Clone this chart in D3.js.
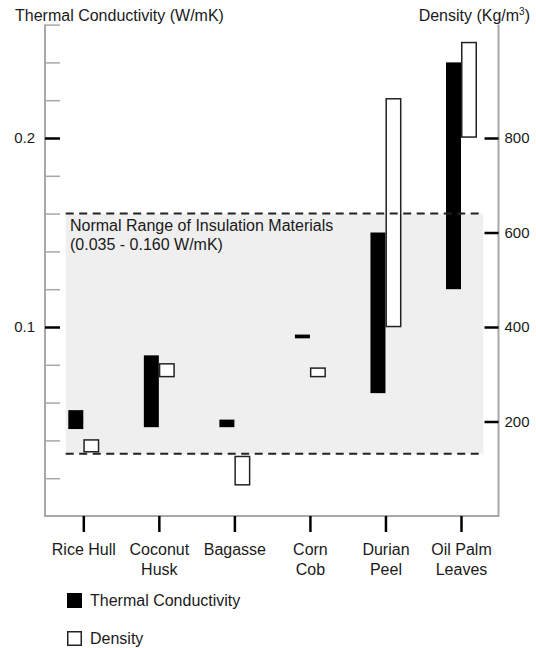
<!DOCTYPE html>
<html>
<head>
<meta charset="utf-8">
<script src="https://cdn.jsdelivr.net/npm/d3@7"></script>
<style>
  body { margin: 0; background: #fff; }
  svg { display: block; font-family: "Liberation Sans", Arial, sans-serif; }
  text { fill: #1a1a1a; }
</style>
</head>
<body>
<svg id="chart" width="536" height="648"></svg>
<script>
// values
const categories = ['Rice Hull', 'Coconut Husk', 'Bagasse', 'Corn Cob', 'Durian Peel', 'Oil Palm Leaves'];
const categoryLines = [['Rice Hull'], ['Coconut', 'Husk'], ['Bagasse'], ['Corn', 'Cob'], ['Durian', 'Peel'], ['Oil Palm', 'Leaves']];
const conductivityLow = [0.046, 0.047, 0.047, 0.094, 0.065, 0.120];
const conductivityHigh = [0.056, 0.085, 0.051, 0.096, 0.150, 0.240];
const densityLow = [136, 295, 66, 295, 401, 802];
const densityHigh = [161, 322, 126, 313, 883, 1002];
const conductivityMajorTicks = [0.1, 0.2];
const conductivityMinorTicks = [0.02, 0.04, 0.06, 0.08, 0.12, 0.14, 0.16, 0.18, 0.22, 0.24, 0.26];
const densityTicks = [200, 400, 600, 800];
const normalRange = [0.033, 0.160];

const svg = d3.select('#chart');

const plot = { left: 45, right: 498.5, top: 24.6, bottom: 516 };
const barWidth = 15;

const y = d3.scaleLinear().domain([0, 0.26]).range([plot.bottom, plot.top]);
const yRight = d3.scaleLinear().domain([0, 1040]).range([plot.bottom, plot.top]);
const x = d3.scalePoint().domain(categories).range([83.3, 461]);

const rows = categories.map((c, i) => ({
  cat: c,
  kLo: conductivityLow[i], kHi: conductivityHigh[i],
  dLo: densityLow[i], dHi: densityHigh[i]
}));

// shaded normal range
svg.append('rect')
  .attr('x', 65.7)
  .attr('width', 483.3 - 65.7)
  .attr('y', y(normalRange[1]))
  .attr('height', y(normalRange[0]) - y(normalRange[1]))
  .attr('fill', '#efefef');

// conductivity bars (filled, left of tick)
svg.append('g')
  .selectAll('rect')
  .data(rows)
  .enter().append('rect')
  .attr('x', d => x(d.cat) - barWidth)
  .attr('width', barWidth)
  .attr('y', d => y(d.kHi))
  .attr('height', d => y(d.kLo) - y(d.kHi))
  .attr('fill', '#000');

// density bars (open, right of tick)
svg.append('g')
  .selectAll('rect')
  .data(rows)
  .enter().append('rect')
  .attr('x', d => x(d.cat) + 0.75)
  .attr('width', barWidth - 0.5)
  .attr('y', d => yRight(d.dHi))
  .attr('height', d => yRight(d.dLo) - yRight(d.dHi))
  .attr('fill', '#fff')
  .attr('stroke', '#222')
  .attr('stroke-width', 1.5);

// dashed limits
svg.append('g')
  .selectAll('line')
  .data(normalRange)
  .enter().append('line')
  .attr('x1', 65.7)
  .attr('x2', 483.3)
  .attr('y1', d => y(d))
  .attr('y2', d => y(d))
  .attr('stroke', '#222')
  .attr('stroke-width', 2)
  .attr('stroke-dasharray', '8,5.5');

svg.append('text')
  .attr('x', 70)
  .attr('y', y(normalRange[1]) + 17)
  .attr('font-size', 16)
  .selectAll('tspan')
  .data(['Normal Range of Insulation Materials', '(0.035 - 0.160 W/mK)'])
  .enter().append('tspan')
  .attr('x', 70)
  .attr('dy', (d, i) => i ? 19.5 : 0)
  .text(d => d);

// frame
svg.append('path')
  .attr('d', `M${plot.left},${plot.top}V${plot.bottom}H${plot.right}V${plot.top}`)
  .attr('fill', 'none')
  .attr('stroke', '#a8a8a8')
  .attr('stroke-width', 2);

// left axis, minor ticks
svg.append('g')
  .attr('transform', `translate(${plot.left},0)`)
  .call(d3.axisLeft(y).tickValues(conductivityMinorTicks).tickSize(-15).tickFormat(''))
  .call(g => g.select('.domain').remove())
  .call(g => g.selectAll('.tick line').attr('stroke', '#a8a8a8').attr('stroke-width', 1.5));

// left axis, major ticks
svg.append('g')
  .attr('transform', `translate(${plot.left},0)`)
  .call(d3.axisLeft(y).tickValues(conductivityMajorTicks).tickSize(-15).tickPadding(10).tickFormat(d3.format('.1f')))
  .call(g => g.select('.domain').remove())
  .call(g => g.selectAll('.tick line').attr('stroke', '#000').attr('stroke-width', 2.5))
  .call(g => g.selectAll('.tick text').attr('font-size', 15).attr('font-family', null).attr('fill', '#1a1a1a'));

// right axis
svg.append('g')
  .attr('transform', `translate(${plot.right},0)`)
  .call(d3.axisRight(yRight).tickValues(densityTicks).tickSize(-14).tickPadding(6))
  .call(g => g.select('.domain').remove())
  .call(g => g.selectAll('.tick line').attr('stroke', '#000').attr('stroke-width', 2.5))
  .call(g => g.selectAll('.tick text').attr('font-size', 15).attr('font-family', null).attr('fill', '#1a1a1a'));

// bottom ticks and labels
const xAxis = svg.append('g')
  .attr('transform', `translate(0,${plot.bottom})`)
  .call(d3.axisBottom(x).tickSize(16).tickFormat(''))
  .call(g => g.select('.domain').remove())
  .call(g => g.selectAll('.tick line').attr('stroke', '#000').attr('stroke-width', 2.5));

xAxis.selectAll('.tick').each(function(d, i) {
  const t = d3.select(this).append('text')
    .attr('y', 39)
    .attr('font-size', 16)
    .attr('font-family', null)
    .attr('text-anchor', 'middle')
    .attr('fill', '#1a1a1a');
  t.selectAll('tspan')
    .data(categoryLines[i])
    .enter().append('tspan')
    .attr('x', 0)
    .attr('dy', (s, j) => j ? 19.5 : 0)
    .text(s => s);
});

// axis titles
svg.append('text')
  .attr('x', 15)
  .attr('y', 21)
  .attr('font-size', 16)
  .text('Thermal Conductivity (W/mK)');

const rt = svg.append('text')
  .attr('x', 530)
  .attr('y', 21)
  .attr('font-size', 16)
  .attr('text-anchor', 'end');
rt.append('tspan').text('Density (Kg/m');
rt.append('tspan').attr('font-size', 10).attr('dy', -6).text('3');
rt.append('tspan').attr('dy', 6).text(')');

// legend
const legend = [
  { label: 'Thermal Conductivity', fill: '#000', stroke: 'none' },
  { label: 'Density', fill: '#fff', stroke: '#222' }
];
const lg = svg.append('g')
  .selectAll('g')
  .data(legend)
  .enter().append('g')
  .attr('transform', (d, i) => `translate(67,${593 + i * 38})`);
lg.append('rect')
  .attr('x', d => d.stroke === 'none' ? 0 : 0.75)
  .attr('y', d => d.stroke === 'none' ? 0 : 0.75)
  .attr('width', d => d.stroke === 'none' ? 15 : 13.5)
  .attr('height', d => d.stroke === 'none' ? 15 : 13.5)
  .attr('fill', d => d.fill)
  .attr('stroke', d => d.stroke)
  .attr('stroke-width', 1.5);
lg.append('text')
  .attr('x', 23)
  .attr('y', 13)
  .attr('font-size', 16)
  .text(d => d.label);
</script>
</body>
</html>
